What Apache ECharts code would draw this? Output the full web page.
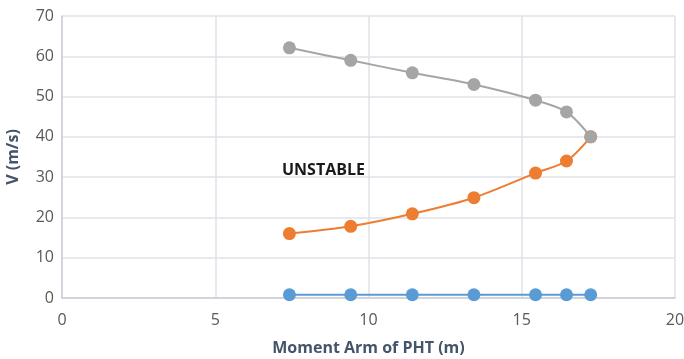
<!DOCTYPE html>
<html>
<head>
<meta charset="utf-8">
<script src="https://cdn.jsdelivr.net/npm/echarts@6/dist/echarts.min.js"></script>
<style>
* { margin: 0; padding: 0; }
body { background: #fff; }
#chart { width: 684px; height: 359px; }
</style>
</head>
<body>
<div id="chart"></div>
<script>
const momentArm = [7.42, 9.42, 11.43, 13.44, 15.45, 16.46, 17.25];
const vUpper = [62.1, 59.0, 55.9, 53.0, 49.1, 46.2, 40.0];
const vLower = [16.0, 17.8, 20.9, 24.9, 31.0, 34.0, 40.0];
const vBase = [0.8, 0.8, 0.8, 0.8, 0.8, 0.8, 0.8];

const pairs = ys => momentArm.map((x, i) => [x, ys[i]]);
const font = '"Open Sans", "Liberation Sans", sans-serif';

const chart = echarts.init(document.getElementById('chart'));

function lineSeries(ys, color, smooth) {
  return {
    type: 'line',
    data: pairs(ys),
    smooth: smooth,
    symbol: 'circle',
    symbolSize: 13,
    lineStyle: { color: color, width: 2 },
    itemStyle: { color: color },
    animation: false
  };
}

chart.setOption({
  backgroundColor: '#fff',
  grid: { left: 62, right: 9, top: 16, bottom: 61, outerBoundsMode: 'none' },
  xAxis: {
    type: 'value',
    min: 0, max: 20, interval: 5,
    name: 'Moment Arm of PHT (m)',
    nameLocation: 'middle',
    nameGap: 42,
    nameTextStyle: { color: '#44546a', fontSize: 16, fontWeight: 'bold', fontFamily: font },
    axisLine: { show: true, lineStyle: { color: '#c9ced8', width: 1.5 } },
    axisTick: { show: false },
    axisLabel: { color: '#595959', fontSize: 16, fontFamily: font, margin: 14 },
    splitLine: { show: true, lineStyle: { color: '#dfe2ea', width: 1.5 } }
  },
  yAxis: {
    type: 'value',
    min: 0, max: 70, interval: 10,
    name: 'V (m/s)',
    nameLocation: 'middle',
    nameGap: 41,
    nameTextStyle: { color: '#44546a', fontSize: 16, fontWeight: 'bold', fontFamily: font },
    axisLine: { show: true, lineStyle: { color: '#c9ced8', width: 1.5 } },
    axisTick: { show: false },
    axisLabel: { color: '#595959', fontSize: 16, fontFamily: font, margin: 8 },
    splitLine: { show: true, lineStyle: { color: '#dfe2ea', width: 1.5 } }
  },
  graphic: [{
    type: 'text',
    left: 282,
    top: 162,
    style: { text: 'UNSTABLE', fill: '#1a1a1a', font: 'bold 16px ' + font }
  }],
  series: [
    lineSeries(vBase, '#5b9bd5', false),
    lineSeries(vLower, '#ed7d31', 0.3),
    lineSeries(vUpper, '#a5a5a5', 0.3)
  ]
});
</script>
</body>
</html>
